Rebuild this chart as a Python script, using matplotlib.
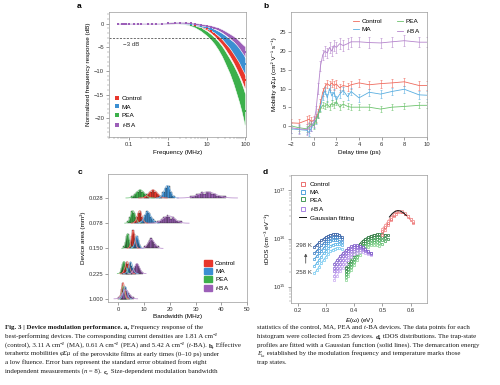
import numpy as np
import matplotlib
matplotlib.use("Agg")
import matplotlib.pyplot as plt
from matplotlib.lines import Line2D
from matplotlib.patches import Patch

plt.rcParams['font.family'] = ['Liberation Sans', 'DejaVu Sans']
plt.rcParams['mathtext.fontset'] = 'custom'
plt.rcParams['mathtext.rm'] = 'Liberation Sans'
plt.rcParams['mathtext.it'] = 'Liberation Sans:italic'
plt.rcParams['mathtext.bf'] = 'Liberation Sans:bold'

DEVICES = ['Control', 'MA', 'PEA', 't-BA']
COL = {'Control': '#e8372c', 'MA': '#3b8fd2', 'PEA': '#3cb04b', 't-BA': '#9c5fb8'}
COL_B = {'Control': '#ef6b5e', 'MA': '#5aaee0', 'PEA': '#6cc36c', 't-BA': '#b585cc'}

# ---- panel a: frequency response (dB), band centre and half spread
FREQ = [0.05, 0.065, 0.075, 0.085, 0.1, 0.13, 0.17, 0.2, 0.3, 0.4, 0.5, 0.7, 1, 1.5, 2, 3, 4, 5,
        7, 10, 13, 16, 20, 25, 30, 40, 50, 60, 70, 80, 90, 100]
RESP_PEA = [0, 0, 0, 0, 0, 0, 0, 0, 0, 0, 0, 0.05, 0.1, 0.2, 0.2, 0.1, -0.2, -0.5,
            -1.1, -2.0, -2.8, -3.6, -4.6, -5.8, -7.0, -9.0, -10.8, -12.5, -14.0, -15.5, -17.0, -18.5]
SPR_PEA = [0.1] * 12 + [0.2, 0.2, 0.2, 0.3, 0.3, 0.3,
           0.4, 0.5, 0.6, 0.7, 0.9, 1.1, 1.3, 1.6, 2.0, 2.4, 2.7, 3.0, 3.3, 3.6]
RESP_CTRL = [0, 0, 0, 0, 0, 0, 0, 0, 0, 0, 0, 0.05, 0.1, 0.2, 0.2, 0.1, -0.1, -0.2,
             -0.5, -1.0, -1.6, -2.2, -3.0, -3.8, -4.6, -6.0, -7.2, -8.3, -9.3, -10.2, -11.1, -12.0]
SPR_CTRL = [0.1] * 12 + [0.15, 0.15, 0.15, 0.2, 0.2, 0.2,
            0.25, 0.3, 0.35, 0.4, 0.5, 0.6, 0.7, 0.9, 1.1, 1.3, 1.5, 1.7, 1.9, 2.0]
RESP_MA = [0, 0, 0, 0, 0, 0, 0, 0, 0, 0, 0, 0.05, 0.1, 0.2, 0.2, 0.1, -0.05, -0.15,
           -0.4, -0.7, -1.1, -1.5, -2.0, -2.6, -3.2, -4.2, -5.1, -5.9, -6.6, -7.3, -7.9, -8.5]
SPR_MA = [0.1] * 12 + [0.15, 0.15, 0.15, 0.2, 0.2, 0.2,
          0.25, 0.3, 0.35, 0.4, 0.5, 0.65, 0.8, 1.0, 1.3, 1.5, 1.7, 2.0, 2.2, 2.4]
RESP_TBA = [0, 0, 0, 0, 0, 0, 0, 0, 0, 0, 0, 0.05, 0.1, 0.2, 0.25, 0.2, 0.1, 0.0,
            -0.2, -0.4, -0.6, -0.8, -1.1, -1.5, -1.9, -2.6, -3.2, -3.8, -4.4, -5.0, -5.5, -6.0]
SPR_TBA = [0.1] * 12 + [0.15, 0.15, 0.15, 0.15, 0.15, 0.2,
           0.2, 0.2, 0.25, 0.25, 0.3, 0.35, 0.4, 0.5, 0.6, 0.7, 0.8, 0.9, 1.0, 1.2]

# ---- panel b: THz mobility vs delay time
DELAY = [-2, -1.3, -0.6, -0.4, -0.2, 0, 0.2, 0.4, 0.6, 0.8, 1.0, 1.2, 1.4, 1.6, 1.8, 2.0,
         2.3, 2.6, 3.0, 3.3, 4, 4.9, 5.9, 6.9, 8, 9.3, 10]
MOB_CTRL = [0.8, 0.7, 1.5, 1.8, 1.2, 1.5, 2.0, 3.5, 6.0, 9.0, 10.5, 11.3, 10.8, 11.5, 10.8, 11.2,
            10.2, 10.8, 10.5, 11.0, 11.5, 11.0, 11.3, 11.5, 11.8, 10.8, 10.8]
MOB_MA = [-0.8, -1.0, -1.2, -1.8, -0.5, 0.5, 1.5, 3.0, 5.0, 8.0, 9.5, 7.5, 10.0, 8.0, 9.0, 7.0,
          8.5, 9.5, 7.8, 9.2, 7.5, 9.0, 8.5, 9.2, 9.8, 8.3, 8.2]
MOB_PEA = [0.0, -0.5, -0.8, 0.0, 0.5, 0.0, 1.5, 3.0, 4.5, 5.5, 5.2, 5.8, 5.0, 6.0, 5.5, 6.5,
           5.0, 5.8, 5.2, 5.0, 5.0, 5.0, 4.5, 5.0, 5.2, 5.5, 5.5]
MOB_TBA = [-0.5, -0.8, -1.0, -0.5, 0.0, 1.0, 4.0, 10.0, 16.0, 19.0, 20.0, 19.5, 21.0, 20.0, 21.5, 21.0,
           22.0, 21.5, 22.0, 22.5, 22.5, 22.3, 22.2, 22.5, 22.8, 22.4, 22.4]
ERR_B = {'Control': 1.1, 'MA': 1.0, 'PEA': 0.8, 't-BA': 1.4}

# ---- panel c: bandwidth histograms (MHz), one row per device area
AREAS = ['1.000', '0.225', '0.150', '0.078', '0.028']
BIN_W = [0.5, 0.5, 0.5, 0.75, 1.0]
H_START = {
    'PEA': [0.5, 0.5, 2.0, 3.5, 5.0],
    'Control': [0.5, 1.5, 4.0, 6.0, 10.0],
    'MA': [1.0, 3.0, 5.5, 8.5, 16.0],
    't-BA': [0.0, 5.0, 10.0, 15.0, 28.0],
}
H_COUNTS = {
    'PEA': [[1, 3, 6, 5, 2], [1, 3, 5, 6, 4, 2, 1], [1, 3, 6, 7, 4, 2],
            [1, 3, 6, 5, 3, 1], [1, 2, 3, 4, 3, 2, 1]],
    'Control': [[2, 5, 8, 6, 3, 1], [1, 2, 4, 6, 5, 4, 2, 1], [1, 3, 6, 9, 7, 3, 1],
                [1, 3, 5, 6, 3, 1], [1, 2, 3, 4, 3, 2, 1]],
    'MA': [[1, 3, 5, 6, 4, 2, 1], [1, 3, 5, 6, 4, 3, 1, 1], [1, 3, 5, 6, 4, 2, 1],
           [1, 2, 4, 6, 5, 3, 2, 1], [1, 3, 5, 6, 3, 1]],
    't-BA': [[1, 1, 2, 3, 4, 5, 4, 3, 2, 2, 1, 1], [1, 2, 3, 4, 5, 4, 3, 2, 1],
             [1, 1, 2, 3, 4, 5, 4, 3, 2, 1, 1, 1], [1, 1, 2, 3, 3, 4, 3, 2, 3, 2, 1, 1, 1],
             [1, 1, 2, 2, 3, 2, 3, 3, 2, 2, 1, 1, 1, 1]],
}
H_PER_COUNT = 0.08

# ---- panel d: tDOS (x1e15 cm^-3 eV^-1), temperatures 258 -> 298 K
TEMPS = [258, 268, 278, 288, 298]
MA_E = [0.26, 0.268, 0.276, 0.284, 0.292, 0.300, 0.308, 0.316, 0.324, 0.332, 0.340, 0.348, 0.356]
MA_T = [[1.9, 2.2, 2.6, 3.1, 3.6, 4.2, 4.8, 5.4, 5.9, 6.2, 6.4, 6.3, 6.0],
        [2.7, 3.1, 3.6, 4.2, 4.9, 5.6, 6.3, 7.0, 7.5, 7.7, 7.8, 7.6, 7.2],
        [3.8, 4.3, 4.9, 5.6, 6.4, 7.2, 8.0, 8.7, 9.2, 9.4, 9.3, 9.0, 8.4],
        [5.0, 5.6, 6.3, 7.2, 8.0, 8.9, 9.7, 10.3, 10.8, 11.0, 11.0, 10.6, 9.8],
        [6.8, 7.5, 8.3, 9.2, 10.0, 10.8, 11.5, 12.0, 12.3, 12.5, 12.4, 12.0, 11.0]]
PEA_E = [0.37, 0.38, 0.39, 0.40, 0.41, 0.42, 0.43, 0.44, 0.45, 0.46, 0.47, 0.48, 0.49, 0.50, 0.51, 0.52]
PEA_T = [[1.4, 1.7, 2.2, 2.8, 3.6, 4.5, 5.4, 6.2, 6.8, 7.2, 7.3, 7.2, 7.0],
         [1.6, 2.0, 2.6, 3.3, 4.2, 5.2, 6.1, 7.0, 7.6, 8.0, 8.3, 8.3, 8.1, 7.8],
         [1.8, 2.3, 3.0, 3.8, 4.8, 5.9, 7.0, 7.9, 8.6, 9.2, 9.5, 9.6, 9.5, 9.2, 8.8],
         [2.1, 2.7, 3.5, 4.5, 5.6, 6.8, 8.0, 9.0, 9.8, 10.4, 10.8, 11.0, 11.0, 10.8, 10.5, 10.0],
         [2.5, 3.2, 4.1, 5.2, 6.5, 7.8, 9.0, 10.0, 10.8, 11.5, 12.0, 12.2, 12.3, 12.2, 12.0, 11.6]]
TBA_E = [0.33, 0.34, 0.35, 0.36, 0.37, 0.38, 0.39, 0.40, 0.41, 0.42, 0.43, 0.44, 0.45, 0.46]
TBA_T = [[1.4, 1.7, 2.1, 2.5, 3.0, 3.6, 4.2, 4.7, 5.1, 5.3, 5.3, 5.1, 4.8, 4.5],
         [1.7, 2.1, 2.5, 3.0, 3.6, 4.2, 4.8, 5.4, 5.7, 5.8, 5.7, 5.4, 5.0, 4.7],
         [2.1, 2.5, 3.0, 3.6, 4.3, 4.9, 5.5, 6.0, 6.3, 6.3, 6.0, 5.6, 5.2, 4.8],
         [2.5, 3.0, 3.6, 4.3, 5.0, 5.6, 6.2, 6.6, 6.8, 6.7, 6.3, 5.8, 5.3, 4.9],
         [3.0, 3.6, 4.3, 5.0, 5.7, 6.3, 6.9, 7.2, 7.3, 7.1, 6.6, 6.0, 5.5, 5.0]]
CTRL_E = [0.50, 0.51, 0.52, 0.53, 0.54, 0.55, 0.56, 0.57, 0.58, 0.59, 0.60, 0.61]
CTRL_T = [[12, 15, 19, 24, 29, 33, 36, 35, 32, 28, 24, 21],
          [14, 17, 21, 26, 31, 35, 37, 36, 33, 29, 25, 22],
          [16, 19, 23, 28, 33, 37, 38, 37, 34, 30, 26, 23]]
FIT_E = [0.525, 0.535, 0.545, 0.555, 0.565, 0.575, 0.585]
FIT_T = [28, 33, 36.5, 38, 37, 34, 30]
MA_COLS = ['#72c8f0', '#52b2e8', '#3a95d8', '#2c74c0', '#22509c']
PEA_COLS = ['#85d490', '#58bd68', '#3aa24f', '#2a8a3f', '#1e6d30']
TBA_COLS = ['#c9aaf2', '#b28ce8', '#9c72de', '#8a62d3', '#7450c4']
CTRL_COLS = ['#f28080', '#e85a5a', '#f09090']


def style_axes(ax):
    for s in ax.spines.values():
        s.set_color('#9a9a9a')
        s.set_linewidth(0.5)
    ax.tick_params(which='major', length=2, width=0.4, labelsize=4.2, pad=1.5,
                   colors='#555555', labelcolor='#333333')
    ax.tick_params(which='minor', length=1.1, width=0.3, colors='#777777')


fig = plt.figure(figsize=(5, 3.85), dpi=100)
ax_a = fig.add_axes([0.218, 0.644, 0.274, 0.325])
ax_b = fig.add_axes([0.582, 0.644, 0.272, 0.325])
ax_c = fig.add_axes([0.216, 0.216, 0.278, 0.332])
ax_d = fig.add_axes([0.582, 0.213, 0.272, 0.333])

# ---- a
bands = [('PEA', RESP_PEA, SPR_PEA), ('Control', RESP_CTRL, SPR_CTRL),
         ('MA', RESP_MA, SPR_MA), ('t-BA', RESP_TBA, SPR_TBA)]
f = np.array(FREQ)
for name, r, s in bands:
    r = np.array(r)
    s = np.array(s)
    ax_a.fill_between(f, r - s, r + s, color=COL[name], lw=0.4, edgecolor='white')
    ax_a.plot(f, r, 's', ms=1.6, color=COL[name], mew=0)
ax_a.axhline(-3, color='#333333', lw=0.5, ls=(0, (3, 2)))
ax_a.text(0.07, -4.5, '−3 dB', fontsize=4.4, va='center', color='#333333')
ax_a.set_xscale('log')
ax_a.set_xlim(0.03, 105)
ax_a.set_ylim(-24, 2.5)
ax_a.set_xticks([0.1, 1, 10, 100], ['0.1', '1', '10', '100'])
ax_a.set_yticks([0, -5, -10, -15, -20])
ax_a.set_yticks(np.arange(-24, 3, 1), minor=True)
ax_a.set_xlabel('Frequency (MHz)', fontsize=4.6, labelpad=2)
ax_a.set_ylabel('Normalized frequency response (dB)', fontsize=4.6, labelpad=2)
ax_a.legend(handles=[Line2D([], [], ls='', marker='s', ms=2.2, color=COL[d], mew=0,
                            label=d if d != 't-BA' else '$t$-BA') for d in DEVICES],
            loc='lower left', bbox_to_anchor=(0.0, 0.03), fontsize=4.6, frameon=False,
            handletextpad=0.1, labelspacing=0.45, handlelength=1.2, borderaxespad=0.3)
style_axes(ax_a)

# ---- b
series_b = [('Control', MOB_CTRL), ('MA', MOB_MA), ('PEA', MOB_PEA), ('t-BA', MOB_TBA)]
for name, m in series_b:
    ax_b.errorbar(DELAY, m, yerr=ERR_B[name], color=COL_B[name], lw=0.6,
                  elinewidth=0.4, capsize=1.0, capthick=0.4,
                  label=name if name != 't-BA' else '$t$-BA')
ax_b.set_xlim(-2, 10)
ax_b.set_ylim(-3, 30.5)
ax_b.set_xticks([-2, 0, 2, 4, 6, 8, 10])
ax_b.set_yticks([0, 5, 10, 15, 20, 25])
ax_b.set_xlabel('Delay time (ps)', fontsize=4.6, labelpad=2)
ax_b.set_ylabel('Mobility φΣμ (cm² V⁻¹ s⁻¹)', fontsize=4.6, labelpad=2)
hb, lb = ax_b.get_legend_handles_labels()
ax_b.legend([h[0] for h in hb], lb, ncol=2, loc='upper right', bbox_to_anchor=(0.99, 0.99),
            fontsize=4.6, frameon=False, handlelength=1.0, handletextpad=0.4,
            columnspacing=2.2, labelspacing=0.4)
style_axes(ax_b)


# ---- c
def lighten(c, k):
    rgb = np.array(matplotlib.colors.to_rgb(c))
    return tuple(rgb + (1 - rgb) * k)


for row, area in enumerate(AREAS):
    bw = BIN_W[row]
    for name in ['PEA', 'Control', 'MA', 't-BA']:
        counts = np.array(H_COUNTS[name][row], dtype=float)
        centers = H_START[name][row] + bw * (np.arange(len(counts)) + 0.5)
        ax_c.bar(centers, counts * H_PER_COUNT, width=bw, bottom=row, color=COL[name],
                 edgecolor='#1a1a1a', lw=0.25, zorder=2)
        mu = np.sum(counts * centers) / counts.sum()
        sd = np.sqrt(np.sum(counts * (centers - mu) ** 2) / counts.sum())
        amp = counts.sum() * bw / (sd * np.sqrt(2 * np.pi)) * H_PER_COUNT
        gx = np.linspace(mu - 3.5 * sd, mu + 3.5 * sd, 80)
        ax_c.plot(gx, row + amp * np.exp(-0.5 * ((gx - mu) / sd) ** 2),
                  color=lighten(COL[name], 0.35), lw=0.6, zorder=3)
ax_c.set_xlim(-4, 50)
ax_c.set_ylim(-0.12, 4.95)
ax_c.set_yticks(range(len(AREAS)), AREAS)
ax_c.set_xticks([0, 10, 20, 30, 40, 50])
ax_c.set_xlabel('Bandwidth (MHz)', fontsize=4.6, labelpad=2)
ax_c.set_ylabel('Device area (mm²)', fontsize=4.6, labelpad=2)
ax_c.legend(handles=[Patch(color=COL[d], label=d if d != 't-BA' else '$t$-BA') for d in DEVICES],
            loc='lower right', bbox_to_anchor=(0.96, 0.03), fontsize=4.6, frameon=False,
            handlelength=1.3, handleheight=1.1, handletextpad=0.5, labelspacing=0.3)
style_axes(ax_c)

# ---- d
groups = [(MA_E, MA_T, MA_COLS), (PEA_E, PEA_T, PEA_COLS), (TBA_E, TBA_T, TBA_COLS),
          (CTRL_E, CTRL_T, CTRL_COLS)]
for energies, curves, cols in groups:
    for ys, c in zip(curves, cols):
        ax_d.plot(energies[:len(ys)], np.array(ys) * 1e15, 's-', color=c, lw=0.6, ms=1.9,
                  mfc='white', mew=0.5)
ax_d.plot(FIT_E, np.array(FIT_T) * 1e15, color='#111111', lw=0.7)
ax_d.annotate('', xy=(0.229, 5.6e15), xytext=(0.229, 2.7e15),
              arrowprops=dict(arrowstyle='-|>', color='#555555', lw=0.6, mutation_scale=4))
ax_d.text(0.224, 7e15, '298 K', fontsize=4.4, ha='center', va='center', color='#333333')
ax_d.text(0.224, 1.95e15, '258 K', fontsize=4.4, ha='center', va='center', color='#333333')
ax_d.set_yscale('log')
ax_d.set_xlim(0.177, 0.658)
ax_d.set_ylim(4.6e14, 2.1e17)
ax_d.set_xticks([0.2, 0.3, 0.4, 0.5, 0.6])
ax_d.set_yticks([1e15, 1e16, 1e17])
ax_d.set_xlabel('$E$(ω) (eV)', fontsize=4.6, labelpad=2)
ax_d.set_ylabel('tDOS (cm⁻³ eV⁻¹)', fontsize=4.6, labelpad=2)
leg_cols = [CTRL_COLS[1], MA_COLS[2], PEA_COLS[3], TBA_COLS[2]]
hd = [Line2D([], [], ls='', marker='s', ms=2.4, color=c, mfc='white', mew=0.6,
             label=d if d != 't-BA' else '$t$-BA') for d, c in zip(DEVICES, leg_cols)]
hd.append(Line2D([], [], color='#111111', lw=0.7, label='Gaussian fitting'))
ax_d.legend(handles=hd, loc='upper left', bbox_to_anchor=(0.02, 0.99), fontsize=4.6,
            frameon=False, handlelength=1.0, handletextpad=0.6, labelspacing=0.35)
style_axes(ax_d)

# ---- panel letters
for x, y, s in [(0.154, 0.982, 'a'), (0.526, 0.982, 'b'), (0.156, 0.553, 'c'), (0.526, 0.553, 'd')]:
    fig.text(x, y, s, fontsize=6, fontweight='bold', va='center')

# ---- caption
CAP_SIZE = 4.95
renderer = fig.canvas.get_renderer()


def cap_line(x, ypx, runs):
    y = 1 - ypx / 385
    for run in runs:
        txt = run[0]
        opt = run[1] if len(run) > 1 else ''
        kw = dict(fontfamily=['Liberation Serif', 'DejaVu Serif'], fontsize=CAP_SIZE,
                  va='baseline', color='#1a1a1a')
        yy = y
        if 'b' in opt:
            kw['fontweight'] = 'bold'
        if 'i' in opt:
            kw['fontstyle'] = 'italic'
        if '^' in opt:
            kw['fontsize'] = CAP_SIZE * 0.7
            yy = y + 2.0 / 385
        if '_' in opt:
            kw['fontsize'] = CAP_SIZE * 0.7
            yy = y - 1.2 / 385
        t = fig.text(x, yy, txt, **kw)
        x += t.get_window_extent(renderer=renderer).width / fig.bbox.width


LEFT = [
    [('Fig. 3 | Device modulation performance. a,', 'b'), (' Frequency response of the',)],
    [('best-performing devices. The corresponding current densities are 1.81 A cm',), ('−2', '^')],
    [('(control), 3.11 A cm',), ('−2', '^'), (' (MA), 0.61 A cm',), ('−2', '^'),
     (' (PEA) and 5.42 A cm',), ('−2', '^'), (' (',), ('t', 'i'), ('-BA). ',), ('b,', 'b'),
     (' Effective',)],
    [('terahertz mobilities ',), ('φΣμ', 'i'), (' of the perovskite films at early times (0–10 ps) under',)],
    [('a low fluence. Error bars represent the standard error obtained from eight',)],
    [('independent measurements (',), ('n', 'i'), (' = 8). ',), ('c,', 'b'),
     (' Size-dependent modulation bandwidth',)],
]
RIGHT = [
    [('statistics of the control, MA, PEA and ',), ('t', 'i'), ('-BA devices. The data points for each',)],
    [('histogram were collected from 25 devices. ',), ('d,', 'b'), (' tDOS distributions. The trap-state',)],
    [('profiles are fitted with a Gaussian function (solid lines). The demarcation energy',)],
    [('E', 'i'), ('ω', 'i_'), (' established by the modulation frequency and temperature marks those',)],
    [('trap states.',)],
]
for i, runs in enumerate(LEFT):
    cap_line(0.010, 329 + 8.8 * i, runs)
for i, runs in enumerate(RIGHT):
    cap_line(0.514, 329 + 8.8 * i, runs)

fig.savefig('out.png', dpi=100)
